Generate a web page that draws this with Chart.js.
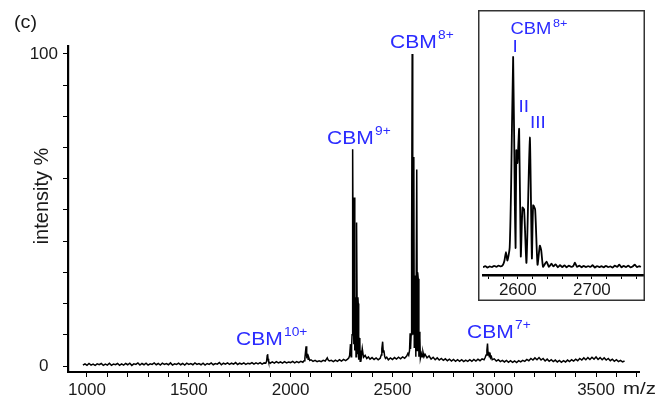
<!DOCTYPE html>
<html><head><meta charset="utf-8">
<script src="https://cdn.jsdelivr.net/npm/chart.js@4/dist/chart.umd.min.js"></script>
<style>
html,body{margin:0;padding:0;background:#fff;}
#wrap{position:relative;width:662px;height:404px;background:#fff;}
#main{position:absolute;left:0;top:0;}
#inset{position:absolute;left:478px;top:10px;background:#fff;}
</style></head><body>
<div id="wrap"><canvas id="main" width="662" height="404"></canvas><canvas id="inset" width="167" height="291"></canvas></div>
<script>
// ---------- data ----------
const mainMz = [
 980,990,1000,1010,1020,1030,1040,1050,1060,1070,1080,1090,1100,1110,1120,1130,1140,1150,1160,1170,1180,1190,
 1200,1210,1220,1230,1240,1250,1260,1270,1280,1290,1300,1310,1320,1330,1340,1350,1360,1370,1380,1390,
 1400,1410,1420,1430,1440,1450,1460,1470,1480,1490,1500,1510,1520,1530,1540,1550,1560,1570,1580,1590,
 1600,1610,1620,1630,1640,1650,1660,1670,1680,1690,1700,1710,1720,1730,1740,1750,1760,1770,1780,1790,
 1800,1810,1820,1830,1840,1850,1860,1870,1878,1882,1885,1887,1889,1892,1896,1900,1910,1920,1930,1940,
 1950,1960,1970,1980,1990,2000,2010,2020,2030,2040,2050,2060,2066,2070,2073,2076,2078,2080,2083,2086,
 2090,2094,2100,2110,2120,2130,2140,2150,2160,2170,2176,2180,2184,2190,2200,2210,2220,2230,2240,2250,
 2260,2270,2280,2286,2290,2294,2297,2299.6,2301.8,2303.8,2305.6,2308,2310,2310.9,2311.8,2315.2,2317.2,2319.2,
 2321.2,2324,2328,2330.5,2332,2334.4,2337.4,2340,2341.6,2344,2348,2352,2358,2366,2374,2382,2390,2400,
 2410,2420,2430,2440,2445,2448,2452,2455,2458,2462,2466,2472,2480,2490,2500,2510,2520,2530,2540,2550,
 2560,2570,2576,2580,2584,2587,2589,2592,2594.3,2597,2599.3,2600.3,2601.3,2605.1,2607.3,2609.6,2611.8,2615,
 2619.5,2622.3,2624,2626.7,2630,2633,2634.8,2637.3,2642,2646,2650,2655,2660,2670,2680,2690,2700,2710,
 2720,2730,2740,2750,2760,2770,2780,2790,2800,2810,2820,2830,2840,2850,2860,2870,2880,2890,2900,2910,
 2920,2930,2940,2950,2956,2960,2964,2967,2970,2973,2976,2979,2982,2986,2990,3000,3010,3020,3030,3040,
 3050,3060,3070,3080,3090,3100,3110,3120,3130,3140,3150,3160,3170,3180,3190,3200,3210,3220,3230,3240,
 3250,3260,3270,3280,3290,3300,3310,3320,3330,3340,3350,3360,3370,3380,3390,3400,3410,3420,3430,3440,
 3450,3460,3470,3480,3490,3500,3510,3520,3530,3540,3550,3560,3570,3580,3590,3600,3610,3620,3630,3640
];
const mainIntensity = [
 0.3,0.7,0.2,0.8,0.3,0.6,0.2,0.7,0.4,0.8,0.2,0.6,0.3,0.9,0.2,0.6,0.4,0.8,0.2,0.7,0.3,0.8,
 0.4,0.9,0.2,0.7,0.5,1.0,0.3,0.8,0.4,0.9,0.3,0.7,0.5,1.0,0.4,0.8,0.3,0.9,0.5,0.8,
 0.4,1.0,0.3,0.7,0.5,0.9,0.4,0.8,0.3,0.9,0.5,0.8,0.4,1.0,0.5,0.8,0.4,0.9,0.3,0.8,
 0.5,1.0,0.4,0.8,0.6,1.1,0.4,0.9,0.6,1.0,0.5,0.9,0.6,1.1,0.5,0.9,0.6,1.0,0.5,0.9,
 0.7,1.1,0.6,1.0,0.7,1.1,0.6,1.0,0.9,1.5,3.3,3.8,2.3,1.4,1.2,0.9,1.3,0.9,1.4,1.0,
 1.3,0.9,1.4,1.0,1.3,1.1,1.5,1.0,1.4,1.1,1.5,1.2,1.7,2.5,4.5,6.3,4.2,3.0,3.4,2.2,
 2.6,1.8,2.0,1.5,1.8,1.4,1.7,1.4,1.8,1.6,2.2,2.6,2.0,1.6,1.8,1.4,1.9,1.5,2.0,1.6,
 2.1,1.7,2.2,2.6,3.5,7.0,3.0,6.5,10,26,69.5,21,7,38,54,5,22,20,
 3,46,4,22,20,2,9,8,1.5,5,3.2,5.6,2.8,3.4,2.4,2.9,2.2,2.7,
 2.1,2.6,2.0,2.5,3.5,5.5,7.8,4.5,5.0,3.0,2.4,2.8,2.0,2.6,2.1,2.7,2.2,2.8,2.3,2.9,
 2.5,3.2,4.0,3.5,5,10.5,5.5,10,40,100,30,10,56,67,6,29,28,3,
 63,5,30,28,3,11,9,2.5,4,3,4.5,3,3.8,2.6,3.2,2.2,2.8,2.0,
 2.6,1.9,2.4,1.8,2.3,1.7,2.2,1.6,2.1,1.5,2.0,1.5,2.0,1.4,1.9,1.5,2.0,1.5,2.1,1.6,
 2.2,1.7,2.3,2.0,2.8,3.5,5.0,7.2,3.5,4.5,3.0,4.3,2.6,3.0,2.0,2.3,1.6,2.0,1.4,1.8,
 1.3,1.8,1.2,1.7,1.2,1.6,1.1,1.7,1.3,1.8,1.5,2.1,1.7,2.4,1.9,2.6,2.0,2.7,1.9,2.4,
 1.6,2.2,1.5,2.0,1.4,1.9,1.3,1.8,1.2,1.7,1.3,1.9,1.4,2.0,1.6,2.2,1.7,2.4,1.9,2.6,
 2.0,2.7,2.1,2.8,2.2,2.9,2.1,2.7,2.0,2.6,1.9,2.4,1.7,2.2,1.5,2.0,1.4,1.8,1.3,1.6
];
const mainXTicks = [1000,1100,1200,1300,1400,1500,1600,1700,1800,1900,2000,2100,2200,2300,2400,2500,2600,2700,2800,2900,3000,3100,3200,3300,3400,3500,3600,3700];
const mainXLabels = [1000,1500,2000,2500,3000,3500];
const mainYTicks = [0,10,20,30,40,50,60,70,80,90,100];
const mainYLabels = [0,100];

const insetMz = [
 2553,2556,2559,2562,2565,2568,2571,2574,2577,2580,2582,2584,2586,2589,2591,2593.7,2596,2597,2598,2599.5,
 2601.8,2604,2606.3,2608.5,2611.7,2616.2,2619,2620.7,2623.4,2626.6,2629.7,2631.5,2634,2636,2638.8,2642,2645.5,2648,2651,2654,
 2657,2660,2663,2666,2669,2672,2675,2677,2680,2683,2686,2689,2692,2695,2698,2701,2704,2707,2710,2713,
 2716,2719,2722,2725,2728,2731,2734,2737,2740,2743,2746,2749,2752,2755,2758,2761,2764,2766
];
const insetIntensity = [
 0.8,1.4,0.7,1.2,0.9,1.5,1.0,1.6,1.2,2.0,4,8,4,10,40,100,30,10,56,50,
 66,6,29,28,3,62,5,30,28,2,11,9,1,2,3.5,1,2.5,1.2,2.2,0.8,
 1.8,0.9,1.7,0.8,1.6,1.0,1.5,3.0,1.0,1.6,0.8,1.5,0.9,1.4,1.0,1.8,0.7,1.4,0.9,1.3,
 0.8,1.5,0.9,1.2,0.7,1.6,1.0,2.0,0.8,1.5,0.9,1.6,0.8,1.2,2.0,0.9,1.4,0.9
];
const insetXTicks = [2560,2580,2600,2620,2640,2660,2680,2700,2720,2740,2760];
const insetXLabels = [2600,2700];

const peakLabels = [
 {text:'CBM', sup:'10+'}, {text:'CBM', sup:'9+'}, {text:'CBM', sup:'8+'}, {text:'CBM', sup:'7+'}
];
const insetPeakNames = ['I','II','III'];
const yTitle = 'intensity %';
const xUnit = 'm/z';
const panelTag = '(c)';

// ---------- drawing ----------
const FONT = '"Liberation Sans", Arial, Helvetica, sans-serif';
const BLUE = '#2b2bff';
const INK = '#1a1a1a';

function txt(ctx, s, x, y, size, color, sx){
  ctx.save();
  ctx.translate(x, y);
  ctx.scale(sx, 1);
  ctx.font = size + 'px ' + FONT;
  ctx.fillStyle = color;
  ctx.textAlign = 'left';
  ctx.textBaseline = 'alphabetic';
  ctx.fillText(s, 0, 0);
  ctx.restore();
}

const mainText = {
  id: 'mainText',
  afterDraw(chart){
    const ctx = chart.ctx;
    txt(ctx, panelTag, 14, 28, 18, INK, 1.1);
    ctx.save();
    ctx.translate(48, 196);
    ctx.rotate(-Math.PI/2);
    ctx.font = '20px ' + FONT;
    ctx.fillStyle = INK;
    ctx.textAlign = 'center';
    ctx.textBaseline = 'alphabetic';
    ctx.fillText(yTitle, 0, 0);
    ctx.restore();
    txt(ctx, xUnit, 623, 394, 17, INK, 1.2);
    const pos = [[236,345],[327,144],[390,48],[467,338]];
    peakLabels.forEach((p,i)=>{
      const [x,y] = pos[i];
      txt(ctx, p.text, x, y, 18, BLUE, 1.17);
      txt(ctx, p.sup, x + 48, y - 9, 12.5, BLUE, 1.1);
    });
  }
};

const mainData = mainMz.map((x,i)=>({x:x, y:mainIntensity[i]}));
new Chart(document.getElementById('main'), {
  type: 'line',
  data: { datasets: [{ data: mainData, borderColor: '#000', borderWidth: 1.5, pointRadius: 0, tension: 0, fill: false }] },
  options: {
    responsive: false, animation: false, events: [],
    layout: { padding: { left: 0, right: 23, top: 46, bottom: 0 } },
    plugins: { legend: { display: false }, tooltip: { enabled: false } },
    scales: {
      x: {
        type: 'linear', min: 906.7, max: 3711,
        afterFit: s => { s.height = 32; },
        afterBuildTicks: s => { s.ticks = mainXTicks.map(v => ({ value: v })); },
        ticks: { autoSkip: false, maxRotation: 0, padding: 3, color: INK, font: { family: FONT, size: 17 },
                 callback: v => mainXLabels.includes(v) ? String(v) : '' },
        grid: { display: true, drawOnChartArea: false, drawTicks: true, tickLength: 5, color: '#000', lineWidth: 1 },
        border: { display: true, color: '#000', width: 2 }
      },
      y: {
        type: 'linear', min: -1.92, max: 102.56,
        afterFit: s => { s.width = 68; },
        afterBuildTicks: s => { s.ticks = mainYTicks.map(v => ({ value: v })); },
        ticks: { autoSkip: false, padding: 5, crossAlign: 'center', color: INK, font: { family: FONT, size: 17 },
                 callback: v => mainYLabels.includes(v) ? String(v) : '' },
        grid: { display: true, drawOnChartArea: false, drawTicks: true, tickLength: 5, color: '#000', lineWidth: 1 },
        border: { display: true, color: '#000', width: 2.2 }
      }
    }
  },
  plugins: [mainText]
});

const insetText = {
  id: 'insetText',
  afterDraw(chart){
    const ctx = chart.ctx;
    const ox = 478, oy = 10;
    ctx.save();
    ctx.strokeStyle = '#333';
    ctx.lineWidth = 1.5;
    ctx.strokeRect(0.75, 0.75, chart.width - 1.5, chart.height - 1.5);
    ctx.restore();
    txt(ctx, 'CBM', 510.5 - ox, 33.5 - oy, 16, BLUE, 1.15);
    txt(ctx, '8+', 553 - ox, 27 - oy, 11.5, BLUE, 1.1);
    const pos = [[512.5,52],[518.5,112],[530,128]];
    insetPeakNames.forEach((n,i)=>{
      txt(ctx, n, pos[i][0] - ox, pos[i][1] - oy, 16.5, BLUE, 1.15);
    });
  }
};

const insetData = insetMz.map((x,i)=>({x:x, y:insetIntensity[i]}));
new Chart(document.getElementById('inset'), {
  type: 'line',
  data: { datasets: [{ data: insetData, borderColor: '#000', borderWidth: 1.8, pointRadius: 0, tension: 0.2, fill: false }] },
  options: {
    responsive: false, animation: false, events: [],
    layout: { padding: { left: 5, right: 2, top: 0, bottom: 0 } },
    plugins: { legend: { display: false }, tooltip: { enabled: false } },
    scales: {
      x: {
        type: 'linear', min: 2553, max: 2769,
        afterFit: s => { s.height = 26; },
        afterBuildTicks: s => { s.ticks = insetXTicks.map(v => ({ value: v })); },
        ticks: { autoSkip: false, maxRotation: 0, padding: 1, color: INK, font: { family: FONT, size: 17 },
                 callback: v => insetXLabels.includes(v) ? String(v) : '' },
        grid: { display: true, drawOnChartArea: false, drawTicks: true, tickLength: 4, color: '#000', lineWidth: 1 },
        border: { display: true, color: '#000', width: 2.5 }
      },
      y: { display: false, min: -2.83, max: 122.17 }
    }
  },
  plugins: [insetText]
});
</script>
</body></html>
